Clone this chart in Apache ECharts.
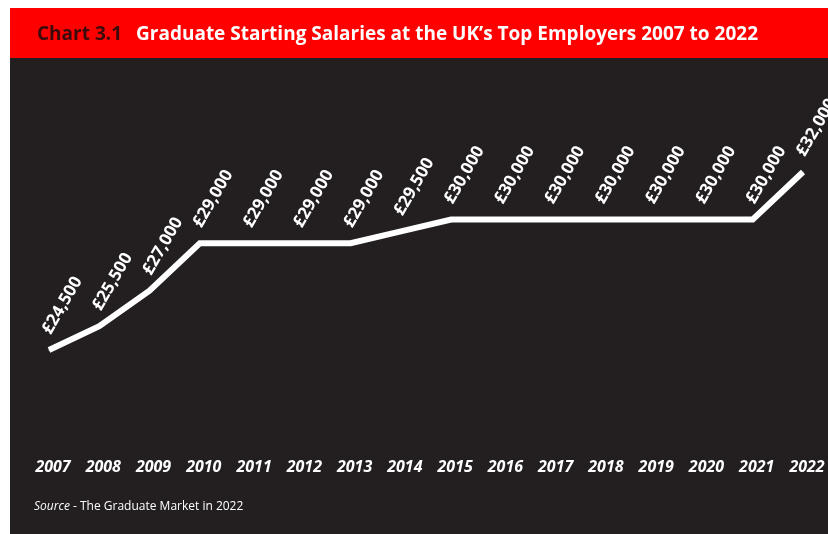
<!DOCTYPE html>
<html>
<head>
<meta charset="utf-8">
<script src="https://cdn.jsdelivr.net/npm/echarts@6/dist/echarts.min.js"></script>
<style>
html,body{margin:0;padding:0;background:#fff;}
#c{width:828px;height:534px;}
</style>
</head>
<body>
<div id="c"></div>
<script>
const years = ['2007','2008','2009','2010','2011','2012','2013','2014','2015','2016','2017','2018','2019','2020','2021','2022'];
const salaries = [24500,25500,27000,29000,29000,29000,29000,29500,30000,30000,30000,30000,30000,30000,30000,32000];
const titlePrefix = 'Chart 3.1';
const titleText = 'Graduate Starting Salaries at the UK\u2019s Top Employers 2007 to 2022';

const chart = echarts.init(document.getElementById('c'));
const FONT = '"Open Sans", "Noto Sans", sans-serif';
chart.setOption({
  backgroundColor: '#ffffff',
  animation: false,
  graphic: [
    {type:'rect', z:-10, shape:{x:10,y:8,width:818,height:50}, style:{fill:'#ff0000'}},
    {type:'rect', z:-10, shape:{x:10,y:58,width:818,height:476}, style:{fill:'#231f20'}},
    {type:'text', left:34, top:501, style:{
      text:'{i|Source} - The Graduate Market in 2022',
      rich:{i:{fontStyle:'italic', fill:'#ffffff', fontSize:12, fontFamily:FONT}},
      fill:'#ffffff', fontSize:12, fontFamily:FONT}}
  ],
  title: {
    left: 32, top: 20,
    text: '{a|' + titlePrefix + '}{b|' + titleText + '}',
    textStyle: {
      rich: {
        a: {color:'#3b0a0a', fontSize:19, fontWeight:'bold', fontFamily:FONT, padding:[0,14,0,0]},
        b: {color:'#ffffff', fontSize:19, fontWeight:'bold', fontFamily:FONT}
      }
    }
  },
  grid: {left:49, right:25, top:172, bottom:184},
  xAxis: {
    type:'category', data: years, boundaryGap:false,
    axisLine:{show:false}, axisTick:{show:false}, splitLine:{show:false},
    axisLabel:{color:'#ffffff', fontSize:16, fontWeight:'bold', fontStyle:'italic', fontFamily:FONT, margin:109, padding:[0,0,0,8]}
  },
  yAxis: {
    type:'value', min:24500, max:32000, show:false, splitLine:{show:false}
  },
  series: [{
    type:'line', data: salaries, symbol:'circle', symbolSize:1, showSymbol:true,
    itemStyle:{color:'#ffffff'},
    lineStyle:{color:'#ffffff', width:6, cap:'butt', join:'miter'},
    label:{
      show:true, position:'top', distance:21, offset:[-5,0], rotate:60, align:'left', verticalAlign:'middle',
      color:'#ffffff', fontSize:17, fontWeight:'bold', fontFamily:FONT,
      formatter: p => '\u00a3' + String(p.value).replace(/\B(?=(\d{3})+(?!\d))/g, ',')
    }
  }]
});
</script>
</body>
</html>
